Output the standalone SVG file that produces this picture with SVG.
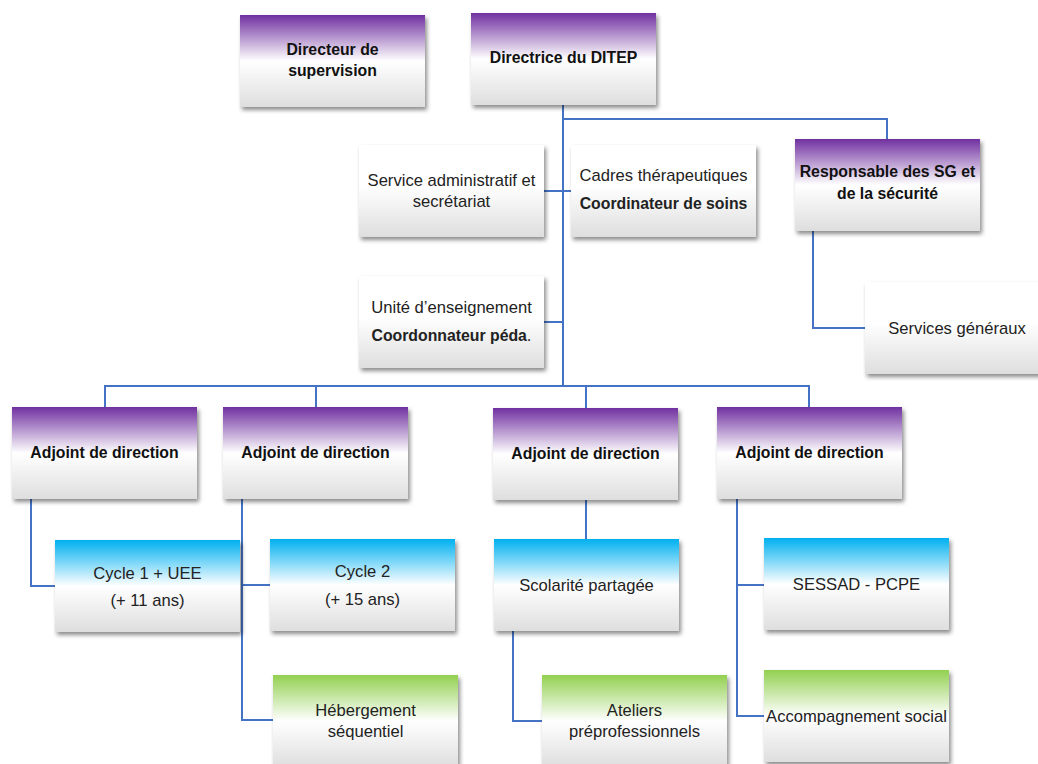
<svg xmlns="http://www.w3.org/2000/svg" width="1038" height="764" viewBox="0 0 1038 764">
<defs>
<linearGradient id="gp" x1="0" y1="0" x2="0" y2="1">
<stop offset="0" stop-color="#7030A0"/><stop offset="0.5" stop-color="#ffffff"/><stop offset="1" stop-color="#dedede"/>
</linearGradient>
<linearGradient id="gb" x1="0" y1="0" x2="0" y2="1">
<stop offset="0" stop-color="#00B0F0"/><stop offset="0.5" stop-color="#ffffff"/><stop offset="1" stop-color="#dedede"/>
</linearGradient>
<linearGradient id="gg" x1="0" y1="0" x2="0" y2="1">
<stop offset="0" stop-color="#92D050"/><stop offset="0.5" stop-color="#ffffff"/><stop offset="1" stop-color="#dedede"/>
</linearGradient>
<linearGradient id="gw" x1="0" y1="0" x2="0" y2="1">
<stop offset="0" stop-color="#ffffff"/><stop offset="0.45" stop-color="#ffffff"/><stop offset="1" stop-color="#dedede"/>
</linearGradient>
<filter id="sh" x="-10%" y="-10%" width="125%" height="130%">
<feDropShadow dx="2" dy="3" stdDeviation="2" flood-color="#000" flood-opacity="0.45"/>
</filter>
</defs>
<style>
.box{filter:url(#sh);}
.p{fill:url(#gp);} .b{fill:url(#gb);} .g{fill:url(#gg);} .w{fill:url(#gw);}
text{font-family:"Liberation Sans",Arial,sans-serif;text-anchor:middle;fill:#222;}
.t{font-weight:bold;font-size:15.8px;fill:#111;}
.r{font-size:16.6px;}
.rb{font-weight:bold;font-size:15.8px;}
.c{fill:none;stroke:#4472C4;stroke-width:2;}
</style>
<rect width="1038" height="764" fill="#fff"/>
<g id="connectors" class="c">
<path d="M563 105V386"/>
<path d="M563 119H887V139"/>
<path d="M544 191H571"/>
<path d="M544 322H563"/>
<path d="M105 407V386H809V407"/>
<path d="M316 386V407"/>
<path d="M586 386V408"/>
<path d="M813 231V328H865"/>
<path d="M31 499V586H55"/>
<path d="M242 499V720H273"/>
<path d="M242 585H270"/>
<path d="M586 500V539"/>
<path d="M513 631V721H542"/>
<path d="M737 499V716H764"/>
<path d="M737 585H764"/>
</g>
<g id="n-supervision"><rect class="box p" x="240" y="15" width="185" height="92"/><text class="t" x="332.5" y="55">Directeur de</text><text class="t" x="332.5" y="76">supervision</text></g>
<g id="n-directrice"><rect class="box p" x="471" y="13" width="185" height="92"/><text class="t" x="563.5" y="63">Directrice du DITEP</text></g>
<g id="n-admin"><rect class="box w" x="359" y="145" width="185" height="92"/><text class="r" x="451.5" y="186">Service administratif et</text><text class="r" x="451.5" y="207">secrétariat</text></g>
<g id="n-cadres"><rect class="box w" x="571" y="145" width="185" height="92"/><text class="r" x="663.5" y="181">Cadres thérapeutiques</text><text class="rb" x="663.5" y="209">Coordinateur  de soins</text></g>
<g id="n-responsable"><rect class="box p" x="795" y="139" width="185" height="92"/><text class="t" x="887.5" y="177">Responsable des SG et</text><text class="t" x="887.5" y="199">de la sécurité</text></g>
<g id="n-unite"><rect class="box w" x="359" y="276" width="185" height="92"/><text class="r" x="451.5" y="313">Unité d’enseignement</text><text x="451.5" y="341"><tspan class="rb">Coordonnateur  péda</tspan><tspan class="r">.</tspan></text></g>
<g id="n-sg"><rect class="box w" x="865" y="282" width="185" height="92"/><text class="r" x="957" y="334">Services généraux</text></g>
<g id="n-adj1"><rect class="box p" x="12" y="407" width="185" height="92"/><text class="t" x="104.5" y="458">Adjoint de direction</text></g>
<g id="n-adj2"><rect class="box p" x="223" y="407" width="185" height="92"/><text class="t" x="315.5" y="458">Adjoint de direction</text></g>
<g id="n-adj3"><rect class="box p" x="493" y="408" width="185" height="92"/><text class="t" x="585.5" y="459">Adjoint de direction</text></g>
<g id="n-adj4"><rect class="box p" x="717" y="407" width="185" height="92"/><text class="t" x="809.5" y="458">Adjoint de direction</text></g>
<g id="n-cycle1"><rect class="box b" x="55" y="540" width="185" height="92"/><text class="r" x="147.5" y="579">Cycle 1 + UEE</text><text class="r" x="147.5" y="606">(+ 11 ans)</text></g>
<g id="n-cycle2"><rect class="box b" x="270" y="539" width="185" height="92"/><text class="r" x="362.5" y="577">Cycle 2</text><text class="r" x="362.5" y="605">(+ 15 ans)</text></g>
<g id="n-heberg"><rect class="box g" x="273" y="675" width="185" height="92"/><text class="r" x="365.5" y="716">Hébergement</text><text class="r" x="365.5" y="737">séquentiel</text></g>
<g id="n-scolarite"><rect class="box b" x="494" y="539" width="185" height="92"/><text class="r" x="586.5" y="591">Scolarité partagée</text></g>
<g id="n-ateliers"><rect class="box g" x="542" y="675" width="185" height="92"/><text class="r" x="634.5" y="716">Ateliers</text><text class="r" x="634.5" y="737">préprofessionnels</text></g>
<g id="n-sessad"><rect class="box b" x="764" y="538" width="185" height="92"/><text class="r" x="856.5" y="590">SESSAD -  PCPE</text></g>
<g id="n-accomp"><rect class="box g" x="764" y="670" width="185" height="92"/><text class="r" x="856.5" y="722">Accompagnement social</text></g>
</svg>
